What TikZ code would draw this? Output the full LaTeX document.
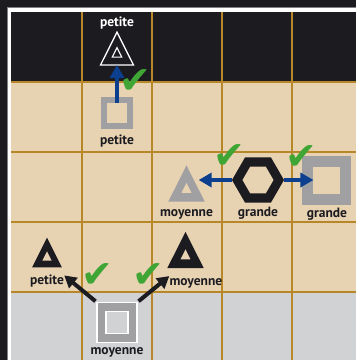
\documentclass[tikz,border=0pt]{standalone}
\usepackage{fontspec}
\setmainfont{PT Sans}
\newfontfamily\dejavu{DejaVu Sans}
\usetikzlibrary{shapes.geometric,arrows.meta,positioning}
\definecolor{ink}{HTML}{1C1B20}
\definecolor{sand}{HTML}{E7D2B2}
\definecolor{pale}{HTML}{D1D2D4}
\definecolor{gold}{HTML}{B8872A}
\definecolor{stone}{HTML}{A0A0A2}
\definecolor{navy}{HTML}{0D3F8F}
\definecolor{leaf}{HTML}{3FA535}

\begin{document}
\begin{tikzpicture}[x=1pt, y=-1pt,
        tri/.style={regular polygon, regular polygon sides=3, inner sep=0pt, outer sep=0pt, yscale=1.15},
        hexa/.style={regular polygon, regular polygon sides=6, inner sep=0pt, outer sep=0pt},
        sq/.style={rectangle, inner sep=0pt, outer sep=0pt},
        lbl/.style={inner sep=0pt, text height=9pt, text depth=3pt, font=\fontsize{13.5}{14}\selectfont\bfseries, text=ink},
        move/.style={line width=4pt, navy, -{Triangle[width=14pt,length=13pt]}},
        jump/.style={line width=4pt, ink, -{Triangle[width=13pt,length=12pt]}},
        ok/.style={text=leaf, font=\dejavu\fontsize{38}{38}\selectfont, inner sep=0pt}]

        \useasboundingbox (0,0) rectangle (356,360);

        % board
        \fill[ink] (0,0) rectangle (356,360);
        \fill[ink] (11.5,11.5) rectangle (356,82);
        \fill[sand] (11.5,82) rectangle (356,292);
        \fill[pale] (11.5,292) rectangle (356,360);
        \foreach \p in {82,152,222,292} {
            \draw[gold, line width=2pt] (\p,11.5) -- (\p,360);
            \draw[gold, line width=2pt] (11.5,\p) -- (356,\p);
        }
        \draw[gray, line width=0.8pt] (7.6,360) -- (7.6,7.6) -- (356,7.6);
        \draw[white, line width=3.5pt] (9.75,360) -- (9.75,9.75) -- (356,9.75);

        % pieces
        \node[tri, minimum size=38pt, draw=white, line width=1.3pt, fill=ink] (top) at (117,54) {};
        \node[tri, minimum size=11pt, draw=white, line width=1.1pt] (topin) at (top) {};
        \node[lbl, text=white, above=2pt of top] (topl) {petite};

        \node[sq, minimum size=32pt, fill=stone] (start) at (117,113) {};
        \node[sq, minimum size=20pt, fill=sand] (startin) at (start) {};
        \node[lbl, below=6pt of start] (startl) {petite};

        \node[hexa, minimum size=52pt, fill=ink] (hex) at (258,180) {};
        \node[hexa, minimum size=31pt, fill=sand] (hexin) at (hex) {};
        \node[lbl, below=5pt of hex] (hexl) {grande};

        \node[tri, minimum size=42pt, fill=stone] (left) at (186.5,189.5) {};
        \node[tri, minimum size=11.5pt, fill=sand] (leftin) at (left) {};
        \node[lbl, below=6pt of left] (leftl) {moyenne};

        \node[sq, minimum size=49pt, fill=stone] (right) at (327,180) {};
        \node[sq, minimum size=27pt, fill=sand] (rightin) at (right) {};
        \node[lbl, below=3.5pt of right] (rightl) {grande};

        \node[tri, minimum size=34.5pt, fill=ink] (small) at (47,257.5) {};
        \node[tri, minimum size=10.5pt, fill=sand] (smallin) at (small) {};
        \node[lbl, below=8pt of small] (smalll) {petite};

        \node[tri, minimum size=42pt, fill=ink] (mid) at (185.5,256) {};
        \node[tri, minimum size=11.5pt, fill=sand] (midin) at (mid) {};
        \node[lbl, below right=8pt and 2pt of mid.corner 2] (midl) {moyenne};

        \node[sq, minimum size=40pt, fill=stone, draw=white, line width=1.2pt] (base) at (117,322.5) {};
        \node[sq, minimum size=22pt, fill=pale, draw=white, line width=1.2pt] (basein) at (base) {};
        \node[lbl, below=3pt of base] (basel) {moyenne};

        % moves
        \draw[move] (startin.north) -- (top.south);
        \draw[move] (hex.west) -- (left.east |- hex.west);
        \draw[move] (hex.east) -- (rightin.west);
        \draw[jump, shorten <=2pt] (base.north west) -- (smalll.north east);
        \draw[jump, shorten <=2pt] (base.north east) -- (midl.north west);

        \node[ok] (ok1) at (135,82) {✔};
        \node[ok] (ok2) at (229,157) {✔};
        \node[ok] (ok3) at (301,158) {✔};
        \node[ok] (ok4) at (97,276) {✔};
        \node[ok] (ok5) at (148,276) {✔};

    \end{tikzpicture}
\end{document}
